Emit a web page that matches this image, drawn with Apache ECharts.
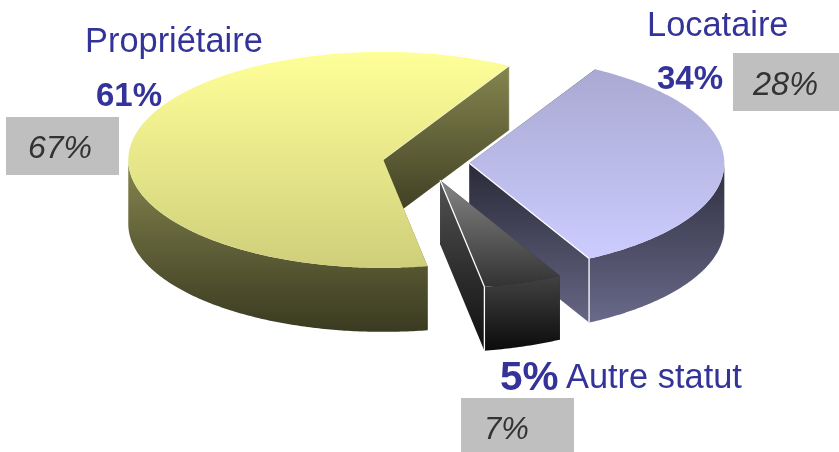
<!DOCTYPE html>
<html>
<head>
<meta charset="utf-8">
<script src="https://cdn.jsdelivr.net/npm/echarts@6/dist/echarts.min.js"></script>
<style>html,body{margin:0;padding:0;background:#fff}#c{width:839px;height:452px}</style>
</head>
<body>
<div id="c"></div>
<script>
// Data, in pie order (counter-clockwise from the start angle)
const categories = ['Propriétaire', 'Autre statut', 'Locataire'];
const shares = [61, 5, 34];
const comparison = [67, 7, 28];

// Pie geometry
const centre = [426, 163];
const radiusX = 255, radiusY = 108, depth = 64, explode = 0.17, startAngle = 60.4;
const drawOrder = [0, 2, 1];

// Per-slice shading: [top, bottom] colours
const sliceStyles = [
  { top: ['#FFFF99', '#CFCF7B'], outer: ['#85854F', '#3A3A21'], inner: ['#85854F', '#3A3A21'], edge: 'rgba(255,255,255,0.45)', edgeW: 1 },
  { top: ['#848484', '#333333'], outer: ['#424242', '#0B0B0B'], inner: ['#525252', '#0F0F0F'], edge: '#FFFFFF', edgeW: 1.3 },
  { top: ['#A9A9D2', '#CCCCFF'], outer: ['#2F2F40', '#69698A'], inner: ['#2A2A38', '#666686'], edge: '#FFFFFF', edgeW: 1.3 }
];

// Text layout: [x, baseline]
const namePos = [[85, 54], [566, 390], [647, 38]];
const sharePos = [[96, 108], [500, 393], [657, 91]];
const shareSize = [33, 40.5, 33];
const nameSize = 34.4;
const boxRect = [[6, 117, 113, 58], [461, 398, 113, 54], [733, 53, 106, 58]];
const boxTextPos = [[28, 160], [484, 441], [753, 97]];
const boxTextSize = [32, 31, 32.5];

const labelColor = '#333399';
const rad = d => d * Math.PI / 180;
const total = shares.reduce((a, b) => a + b, 0);

const slices = [];
let cursor = startAngle;
shares.forEach(v => {
  const span = v / total * 360;
  const mid = rad(cursor + span / 2);
  slices.push({
    a0: cursor, a1: cursor + span,
    cx: centre[0] + explode * radiusX * Math.cos(mid),
    cy: centre[1] - explode * radiusY * Math.sin(mid)
  });
  cursor += span;
});

function grad(stops) {
  return new echarts.graphic.LinearGradient(0, 0, 0, 1, [
    { offset: 0, color: stops[0] }, { offset: 1, color: stops[1] }
  ]);
}
function pt(s, a, dz) {
  return [s.cx + radiusX * Math.cos(rad(a)), s.cy - radiusY * Math.sin(rad(a)) + (dz || 0)];
}
function arc(s, a0, a1, dz) {
  const pts = [], n = Math.max(2, Math.ceil(Math.abs(a1 - a0) * 1.5));
  for (let i = 0; i <= n; i++) pts.push(pt(s, a0 + (a1 - a0) * i / n, dz));
  return pts;
}
function poly(points, fill, z2) {
  return { type: 'polygon', z2: z2, shape: { points: points }, style: { fill: fill, stroke: null } };
}
function line(p, q, color, w, z2) {
  return { type: 'line', z2: z2, shape: { x1: p[0], y1: p[1], x2: q[0], y2: q[1] }, style: { stroke: color, lineWidth: w } };
}
function renderSlice(params, api) {
  const i = api.value(0), s = slices[i], st = sliceStyles[i], kids = [];
  const apex = [s.cx, s.cy], apexLow = [s.cx, s.cy + depth];
  [s.a1, s.a0].forEach(a => {
    kids.push(poly([apex, pt(s, a), pt(s, a, depth), apexLow], grad(st.inner), 1));
  });
  // The outer wall is visible on the front half of the ellipse only
  for (let k = 0; k <= 1; k++) {
    const lo = Math.max(s.a0, 180 + 360 * k), hi = Math.min(s.a1, 360 + 360 * k);
    if (hi > lo) kids.push(poly(arc(s, lo, hi, 0).concat(arc(s, hi, lo, depth)), grad(st.outer), 2));
  }
  kids.push(poly([apex].concat(arc(s, s.a0, s.a1, 0)), grad(st.top), 3));
  kids.push(line(apex, pt(s, s.a0), st.edge, st.edgeW, 4));
  kids.push(line(pt(s, s.a0), pt(s, s.a0, depth), st.edge, st.edgeW, 4));
  return { type: 'group', children: kids };
}

function label(text, pos, size, extra) {
  return {
    type: 'text', x: pos[0], y: pos[1] - size * 0.345, silent: true,
    style: Object.assign({
      text: text, fill: labelColor, fontFamily: '"Liberation Sans", Arial, sans-serif',
      fontSize: size, textAlign: 'left', textVerticalAlign: 'middle'
    }, extra || {})
  };
}
const graphics = [];
categories.forEach((name, i) => {
  const b = boxRect[i];
  graphics.push({ type: 'rect', silent: true, shape: { x: b[0], y: b[1], width: b[2], height: b[3] }, style: { fill: '#BFBFBF' } });
  graphics.push(label(comparison[i] + '%', boxTextPos[i], boxTextSize[i], { fill: '#333333', fontStyle: 'italic' }));
  graphics.push(label(name, namePos[i], nameSize));
  graphics.push(label(shares[i] + '%', sharePos[i], shareSize[i], { fontWeight: 'bold' }));
});

const chart = echarts.init(document.getElementById('c'), null, { renderer: 'canvas' });
chart.setOption({
  animation: false,
  backgroundColor: '#ffffff',
  graphic: { elements: graphics },
  series: [{
    type: 'custom',
    coordinateSystem: 'none',
    silent: true,
    renderItem: renderSlice,
    encode: { value: 1 },
    data: drawOrder.map(i => [i, shares[i]])
  }]
});
</script>
</body>
</html>
